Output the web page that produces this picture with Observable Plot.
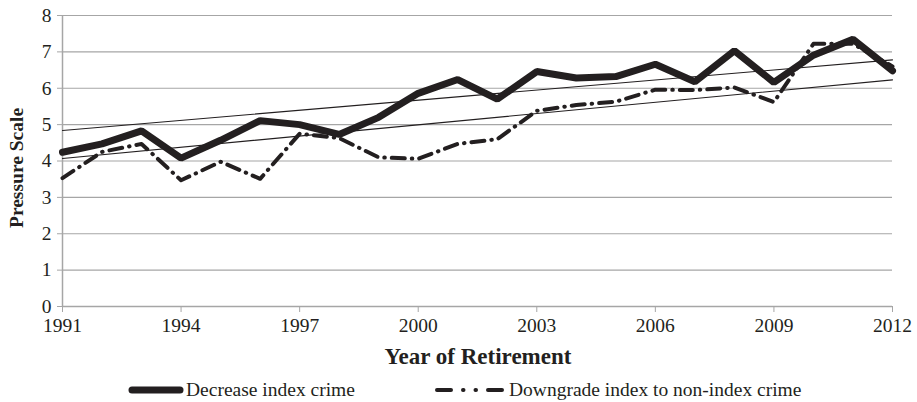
<!DOCTYPE html>
<html><head><meta charset="utf-8">
<script src="https://cdn.jsdelivr.net/npm/d3@7"></script>
<script src="https://cdn.jsdelivr.net/npm/@observablehq/plot@0.6"></script>
<style>
body{margin:0;background:#fff;font-family:"Liberation Serif",serif;}
#wrap{position:relative;width:917px;height:402px;}
#legend{position:absolute;left:0;top:379px;width:917px;height:24px;font-size:19.5px;color:#231f20;}
.item{position:absolute;top:0;display:flex;align-items:center;white-space:nowrap;}
</style>
</head><body>
<div id="wrap"><div id="chart"></div><div id="legend"></div></div>
<script>
const years = [1991,1992,1993,1994,1995,1996,1997,1998,1999,2000,2001,2002,2003,2004,2005,2006,2007,2008,2009,2010,2011,2012];
const decreaseIndex = [4.24,4.47,4.83,4.08,4.57,5.11,5.0,4.73,5.2,5.86,6.24,5.7,6.46,6.28,6.32,6.66,6.18,7.03,6.16,6.91,7.35,6.48];
const downgradeIndex = [3.53,4.25,4.47,3.47,3.98,3.51,4.75,4.63,4.1,4.06,4.47,4.6,5.38,5.54,5.63,5.96,5.95,6.02,5.62,7.22,7.22,6.6];
const trendYears = [1991, 2012];
const trendDecrease = [4.84, 6.78];
const trendDowngrade = [4.07, 6.23];
const seriesNames = ["Decrease index crime", "Downgrade index to non-index crime"];
const xTicks = [1991,1994,1997,2000,2003,2006,2009,2012];
const yTicks = [0,1,2,3,4,5,6,7,8];

const dec = years.map((y,i)=>({year:y, v:decreaseIndex[i]}));
const down = years.map((y,i)=>({year:y, v:downgradeIndex[i]}));
const tDec = trendYears.map((y,i)=>({year:y, v:trendDecrease[i]}));
const tDown = trendYears.map((y,i)=>({year:y, v:trendDowngrade[i]}));

const ink = "#231f20";
const chart = Plot.plot({
  width: 917, height: 376,
  marginLeft: 62, marginRight: 25, marginTop: 15, marginBottom: 70,
  style: {fontFamily: '"Liberation Serif", serif', fontSize: "19.5px", color: ink, background: "#fff"},
  x: {domain: [1991, 2012], ticks: xTicks, tickFormat: "d", tickSize: 6, tickPadding: 5, label: null},
  y: {domain: [0, 8], ticks: yTicks, tickSize: 5, tickPadding: 6, label: null},
  marks: [
    Plot.gridY(yTicks, {stroke: "#a6a6a6", strokeOpacity: 1, strokeWidth: 1.2}),
    Plot.ruleX([1991], {stroke: "#a6a6a6", strokeWidth: 1.5}),
    Plot.ruleY([0], {stroke: "#a6a6a6", strokeWidth: 1.5}),
    Plot.axisX({ticks: xTicks, tickFormat: "d", stroke: "#a6a6a6", fill: ink, tickSize: 6, tickPadding: 6, label: null}),
    Plot.axisY({ticks: yTicks, stroke: "#a6a6a6", fill: ink, tickSize: 5, tickPadding: 6, label: null}),
    Plot.line(tDec, {x: "year", y: "v", stroke: ink, strokeWidth: 1.1}),
    Plot.line(tDown, {x: "year", y: "v", stroke: ink, strokeWidth: 1.1}),
    Plot.line(down, {x: "year", y: "v", stroke: ink, strokeWidth: 4, strokeDasharray: "13,7,0.5,7", strokeLinecap: "round"}),
    Plot.line(dec, {x: "year", y: "v", stroke: ink, strokeWidth: 7, strokeLinejoin: "miter"})
  ]
});
document.getElementById("chart").append(chart);

// axis titles inside the SVG
const svg = d3.select(chart);
svg.append("text").attr("x", 478).attr("y", 364).attr("text-anchor", "middle")
  .attr("font-weight", "bold").attr("font-size", 23).attr("fill", ink).text("Year of Retirement");
svg.append("text").attr("transform", "translate(23,168) rotate(-90)").attr("text-anchor", "middle")
  .attr("font-weight", "bold").attr("font-size", 19.5).attr("fill", ink).text("Pressure Scale");

// legend
const lg = document.getElementById("legend");
function item(left, swatch, label) {
  const d = document.createElement("div");
  d.className = "item"; d.style.left = left + "px";
  d.innerHTML = swatch + `<span style="margin-left:2px">${label}</span>`;
  lg.append(d);
}
item(128, `<svg width="56" height="20"><line x1="4" y1="10" x2="52" y2="10" stroke="${ink}" stroke-width="7" stroke-linecap="round"/></svg>`, seriesNames[0]);
item(433, `<svg width="74" height="20"><line x1="4" y1="10" x2="70" y2="10" stroke="${ink}" stroke-width="4" stroke-dasharray="14,12,0.5,12,0.5,12" stroke-linecap="round"/></svg>`, seriesNames[1]);
</script>
</body></html>
